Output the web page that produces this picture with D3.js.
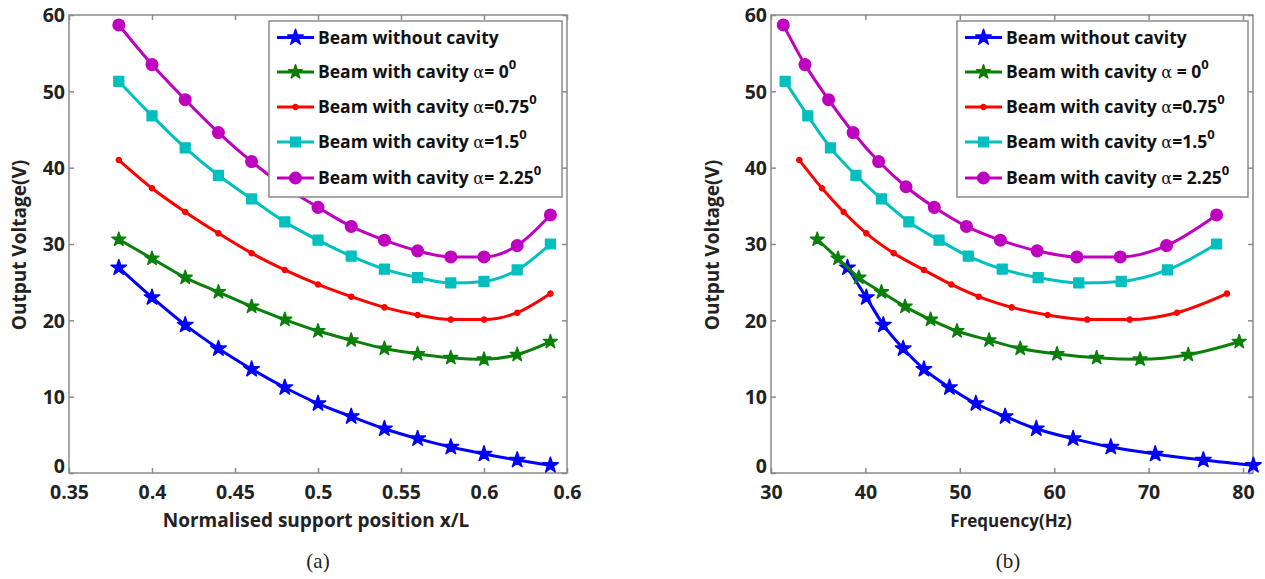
<!DOCTYPE html>
<html><head><meta charset="utf-8">
<script src="https://cdn.jsdelivr.net/npm/d3@7"></script>
<style>body{margin:0;background:#fff}svg{display:block}</style>
</head><body>
<script>
// ---------- DATA ----------
const positions = [0.38,0.40,0.42,0.44,0.46,0.48,0.50,0.52,0.54,0.56,0.58,0.60,0.62,0.64];
const vNoCavity = [26.9,23.0,19.4,16.3,13.6,11.2,9.1,7.4,5.8,4.5,3.4,2.5,1.7,1.0];
const vAlpha0   = [30.6,28.1,25.6,23.7,21.8,20.1,18.6,17.4,16.3,15.6,15.1,14.9,15.5,17.2];
const vAlpha075 = [41.0,37.3,34.2,31.4,28.8,26.6,24.7,23.1,21.7,20.7,20.1,20.1,21.0,23.5];
const vAlpha15  = [51.3,46.8,42.6,39.0,35.9,32.9,30.5,28.4,26.7,25.6,24.9,25.1,26.6,30.0];
const vAlpha225 = [58.7,53.5,48.9,44.6,40.8,37.5,34.8,32.3,30.5,29.1,28.3,28.3,29.8,33.8];
// frequencies (Hz) for the right panel, per series
const fNoCavity = [38.1,40.1,41.9,44.0,46.2,48.9,51.7,54.8,58.1,62.0,66.0,70.7,75.8,81.1];
const fAlpha0   = [34.9,37.1,39.3,41.7,44.2,46.9,49.7,53.1,56.4,60.3,64.5,69.1,74.2,79.6];
const fAlpha075 = [33.0,35.4,37.7,40.1,43.0,46.2,49.1,52.0,55.5,59.3,63.5,68.0,73.0,78.3];
const fAlpha15  = [31.5,33.9,36.3,39.0,41.7,44.6,47.8,50.9,54.5,58.3,62.6,67.1,72.0,77.2];
const fAlpha225 = [31.3,33.6,36.1,38.7,41.4,44.3,47.3,50.7,54.3,58.2,62.4,67.0,71.9,77.2];
const yTicks = [0,10,20,30,40,50,60];
const xTicksLeft = [0.35,0.40,0.45,0.50,0.55,0.60,0.65];
const xTickLabelsLeft = ["0.35","0.4","0.45","0.5","0.55","0.6","0.6"];
const xTicksRight = [30,40,50,60,70,80];
const legendPrefix = ["Beam without cavity","Beam with cavity ","Beam with cavity ","Beam with cavity ","Beam with cavity "];
const legendAlphaLeft  = [null,"= 0","=0.75","=1.5","= 2.25"];
const legendAlphaRight = [null," = 0","=0.75","=1.5","= 2.25"];

// ---------- STYLE ----------
const colors = ["#0000ff","#0a7f0a","#ff0000","#00bfbf","#bf00bf"];
const markers = ["star","star2","dot","square","circle"];
const W = 1265, H = 579;
const svg = d3.select("body").append("svg").attr("width",W).attr("height",H);
const FONT = "'Open Sans', sans-serif";

function markerPath(type){
  if(type==="star") return d3.symbol(d3.symbolStar, 75)();
  if(type==="star2") return d3.symbol(d3.symbolStar, 60)();
  if(type==="dot") return d3.symbol(d3.symbolCircle, 20)();
  if(type==="square") return d3.symbol(d3.symbolSquare, 95)();
  return d3.symbol(d3.symbolCircle, 105)();
}

function panel(opt){
  const g = svg.append("g");
  const x = d3.scaleLinear().domain(opt.xdom).range([opt.x0,opt.x1]);
  const y = d3.scaleLinear().domain([0,60]).range([473,15]);
  g.append("rect").attr("x",opt.x0).attr("y",15).attr("width",opt.x1-opt.x0).attr("height",458)
    .attr("fill","none").attr("stroke","#8a8a8a").attr("stroke-width",1.5);
  const ax = g.append("g").attr("transform",`translate(0,473)`)
    .call(d3.axisBottom(x).tickValues(opt.xticks).tickSize(-5).tickPadding(12)
      .tickFormat((d,i)=>opt.xlabels[i]));
  const axT = g.append("g").attr("transform",`translate(0,15)`)
    .call(d3.axisTop(x).tickValues(opt.xticks).tickSize(-5).tickFormat(""));
  const ay = g.append("g").attr("transform",`translate(${opt.x0},0)`)
    .call(d3.axisLeft(y).tickValues(yTicks).tickSize(-5).tickPadding(4));
  const ayR = g.append("g").attr("transform",`translate(${opt.x1},0)`)
    .call(d3.axisRight(y).tickValues(yTicks).tickSize(-5).tickFormat(""));
  [ax,axT,ay,ayR].forEach(a=>{
    a.select(".domain").remove();
    a.selectAll("line").attr("stroke","#8a8a8a").attr("stroke-width",1.5);
    a.selectAll("text").attr("font-family",FONT).attr("font-weight","bold")
      .attr("font-size",19.5).attr("fill","#222");
  });
  ay.selectAll("text").attr("dy",(d)=> d===0 ? "-0.05em" : "0.35em");
  const line = d3.line().x(d=>x(d[0])).y(d=>y(d[1])).curve(d3.curveMonotoneX);
  opt.series.forEach((s,i)=>{
    const pts = s.xs.map((v,j)=>[v,s.vs[j]]);
    g.append("path").attr("d",line(pts)).attr("fill","none")
      .attr("stroke",colors[i]).attr("stroke-width",3);
    g.selectAll(null).data(pts).enter().append("path")
      .attr("d",markerPath(markers[i]))
      .attr("transform",d=>`translate(${x(d[0])},${y(d[1])})`)
      .attr("fill",colors[i]).attr("stroke",colors[i]).attr("stroke-width",1.5)
      .attr("stroke-linejoin","round");
  });
  const lg = g.append("g");
  lg.append("rect").attr("x",opt.lx).attr("y",21).attr("width",opt.lw).attr("height",176)
    .attr("fill","#fff").attr("stroke","#8a8a8a").attr("stroke-width",1.5);
  const rows = [37.5,72,107,142,178];
  rows.forEach((ry,i)=>{
    lg.append("line").attr("x1",opt.lx+8).attr("x2",opt.lx+45).attr("y1",ry).attr("y2",ry)
      .attr("stroke",colors[i]).attr("stroke-width",3);
    lg.append("path").attr("d",markerPath(markers[i]))
      .attr("transform",`translate(${opt.lx+26.5},${ry})`).attr("fill",colors[i])
      .attr("stroke",colors[i]).attr("stroke-width",1.5).attr("stroke-linejoin","round");
    const t = lg.append("text").attr("x",opt.lx+49).attr("y",ry+6)
      .attr("font-family",FONT).attr("font-weight","bold").attr("font-size",17.5).attr("fill","#111");
    t.append("tspan").text(legendPrefix[i]);
    if(opt.alpha[i]!==null){
      t.append("tspan").text("α").attr("font-family","'DejaVu Serif', serif").attr("font-weight","normal").attr("font-size",16);
      t.append("tspan").text(opt.alpha[i]);
      t.append("tspan").text("0").attr("font-size",13).attr("dy",-9);
    }
  });
  g.append("text").attr("transform",`translate(${opt.ylabX},245) rotate(-90)`)
    .attr("text-anchor","middle").attr("font-family",FONT).attr("font-weight","bold")
    .attr("font-size",19).attr("fill","#222").text("Output Voltage(V)");
  g.append("text").attr("x",opt.xlabX).attr("y",527).attr("text-anchor","middle")
    .attr("font-family",FONT).attr("font-weight","bold").attr("font-size",opt.xlabSize)
    .attr("fill","#222").text(opt.xlab);
  g.append("text").attr("x",opt.capX).attr("y",568).attr("text-anchor","middle")
    .attr("font-family","'Liberation Serif', serif").attr("font-size",21).attr("fill","#222").text(opt.cap);
}

panel({
  x0:69, x1:567, xdom:[0.35,0.65], xticks:xTicksLeft, xlabels:xTickLabelsLeft,
  series:[{xs:positions,vs:vNoCavity},{xs:positions,vs:vAlpha0},{xs:positions,vs:vAlpha075},
          {xs:positions,vs:vAlpha15},{xs:positions,vs:vAlpha225}],
  lx:269, lw:293, alpha:legendAlphaLeft, ylabX:26, xlabX:316, xlabSize:19,
  xlab:"Normalised support position x/L", capX:318, cap:"(a)"
});
panel({
  x0:771, x1:1253, xdom:[30,81.06], xticks:xTicksRight, xlabels:xTicksRight.map(String),
  series:[{xs:fNoCavity,vs:vNoCavity},{xs:fAlpha0,vs:vAlpha0},{xs:fAlpha075,vs:vAlpha075},
          {xs:fAlpha15,vs:vAlpha15},{xs:fAlpha225,vs:vAlpha225}],
  lx:957, lw:291, alpha:legendAlphaRight, ylabX:719, xlabX:1011, xlabSize:17,
  xlab:"Frequency(Hz)", capX:1008, cap:"(b)"
});
</script>
</body></html>
